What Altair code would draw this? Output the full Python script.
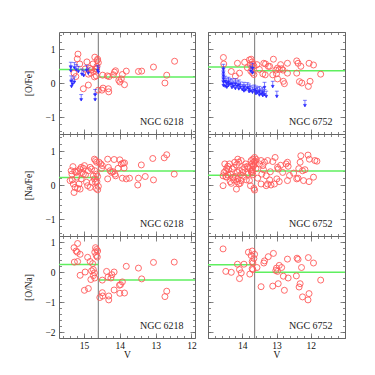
import altair as alt
import pandas as pd
import numpy as np

SERIF = "Liberation Serif"
RED = "#ff5a5a"
BLUE = "#2a2aff"
GREEN = "#5fef5f"
VGREY = "#8a8a8a"
FRAME = "#666666"

# ---------------- NGC 6218 ----------------
v_ofe_6218 = [15.17, 15.19, 15.12, 15.28, 15.23, 15.02, 14.88, 14.70, 14.63, 14.60, 14.64, 14.79,
              14.73, 14.67, 14.81, 14.71, 14.66, 14.60, 14.47, 14.50, 14.32, 14.31, 14.48, 14.35,
              14.30, 14.18, 14.15, 14.12, 14.03, 14.00, 13.96, 13.93, 13.87, 13.82, 13.48, 13.39,
              13.06, 12.69, 12.74, 12.47, 14.83, 14.75, 14.88, 14.97, 14.65, 14.92, 14.62]
ofe_6218 = [0.85, 0.71, 0.56, 0.29, 0.19, -0.17, -0.06, 0.76, 0.66, 0.60, 0.49, 0.39,
            0.34, 0.41, 0.29, 0.18, 0.21, -0.21, -0.15, -0.21, -0.17, -0.26, 0.23, 0.21,
            0.19, 0.24, 0.32, 0.36, 0.08, 0.03, 0.12, 0.25, -0.05, 0.35, 0.34, 0.35,
            0.47, 0.23, 0.00, 0.64, 0.43, 0.56, 0.26, 0.41, 0.42, 0.62, 0.70]
v_ofelim_6218 = [15.37, 15.37, 15.27, 15.22, 15.16, 15.36, 15.32, 15.27, 15.35, 15.06, 15.01,
                 14.93, 14.88, 15.08, 14.69, 14.69, 14.62, 14.60]
ofelim_6218 = [0.61, 0.51, 0.60, 0.54, 0.49, 0.21, 0.12, 0.18, 0.05, 0.41, 0.37,
               0.52, 0.44, -0.34, -0.19, -0.34, 0.52, 0.47]

v_nafe_6218 = [15.36, 15.31, 15.34, 15.39, 15.30, 15.25, 15.28, 15.22, 15.16, 15.20, 15.11, 15.08,
               15.06, 15.02, 14.99, 15.02, 15.14, 15.18, 15.11, 15.08, 14.93, 14.88, 14.83, 14.79,
               14.90, 14.83, 14.77, 14.74, 14.71, 14.68, 14.65, 14.70, 14.65, 14.71, 14.68, 14.66,
               14.62, 14.60, 14.58, 14.53, 14.49, 14.51, 14.34, 14.32, 14.27, 14.34, 14.23, 14.19,
               14.14, 14.12, 14.05, 14.16, 14.00, 13.96, 13.91, 13.87, 13.88, 13.93, 13.82, 13.73,
               13.48, 13.50, 13.40, 13.29, 13.08, 13.06, 12.76, 12.69, 12.48, 15.33, 15.26, 14.96,
               14.62, 14.64]
nafe_6218 = [0.42, 0.54, 0.32, 0.13, 0.03, -0.07, -0.22, 0.37, 0.42, 0.23, 0.47, 0.52,
             0.37, 0.49, 0.57, 0.32, 0.03, -0.10, -0.12, 0.18, 0.08, 0.42, 0.52, 0.47,
             -0.02, -0.07, 0.08, 0.27, 0.76, 0.72, 0.67, 0.42, 0.32, 0.18, 0.08, -0.10,
             -0.14, -0.04, 0.67, 0.62, 0.57, 0.49, 0.76, 0.52, 0.42, 0.18, 0.37, 0.39,
             0.32, 0.27, 0.49, 0.75, 0.74, 0.62, 0.64, 0.65, 0.50, 0.20, 0.18, 0.20,
             0.20, 0.00, 0.59, 0.25, 0.78, 0.15, 0.80, 0.89, 0.32, 0.15, 0.40, 0.30,
             0.25, 0.10]

v_ona_6218 = [15.28, 15.18, 15.22, 15.19, 15.11, 15.27, 15.18, 15.11, 14.99, 14.97, 14.90, 14.83,
              14.88, 14.81, 14.79, 14.74, 14.71, 14.74, 14.70, 14.68, 14.65, 14.62, 14.70, 14.56,
              14.49, 14.48, 14.49, 14.37, 14.33, 14.31, 14.31, 14.25, 14.22, 14.16, 14.16, 14.01,
              13.98, 13.93, 14.00, 13.87, 13.82, 13.48, 13.39, 13.06, 12.74, 12.69, 12.48, 14.76,
              14.66, 14.63]
ona_6218 = [0.81, 0.95, 0.70, 0.66, 0.59, 0.33, 0.35, -0.11, -0.61, 0.00, 0.49, 0.35,
            -0.55, -0.25, 0.04, 0.08, -0.03, -0.12, 0.66, 0.81, 0.75, 0.70, -0.20, -0.85,
            -0.69, -0.80, -0.27, 0.02, -0.17, -0.80, -0.93, -0.20, -0.09, 0.00, -0.60, -0.44,
            -0.42, -0.33, -0.71, -0.70, 0.19, 0.13, -0.23, 0.32, -0.82, -0.64, 0.33, 0.28,
            0.55, 0.50]

# ---------------- NGC 6752 ----------------
v_ofe_6752 = [14.55, 14.54, 14.14, 13.93, 13.74, 13.71, 13.69, 13.76, 13.66, 13.75, 13.70, 13.66,
              14.32, 14.08, 13.57, 13.37, 13.24, 13.09, 12.97, 12.92, 12.85, 12.81, 12.88, 12.68,
              12.68, 13.40, 13.33, 13.11, 13.00, 12.97, 12.77, 12.41, 12.37, 12.29, 12.41, 12.33,
              12.26, 12.05, 11.92, 12.02, 12.07, 11.71, 14.20, 13.85, 13.50, 13.02, 13.79, 13.32,
              13.20, 12.80]
ofe_6752 = [0.75, 0.56, 0.58, 0.61, 0.70, 0.62, 0.55, 0.53, 0.50, 0.35, 0.30, 0.25,
            0.34, 0.29, 0.54, 0.58, 0.49, 0.70, 0.44, 0.40, 0.42, 0.38, 0.54, 0.58,
            0.29, 0.27, 0.24, 0.24, 0.27, 0.12, -0.02, 0.65, 0.58, 0.49, 0.29, 0.04,
            0.00, 0.58, 0.53, 0.05, -0.10, 0.26, 0.20, 0.45, 0.40, 0.38, 0.68, 0.56,
            0.49, 0.05]
v_ofelim_6752 = [14.55, 14.55, 14.55, 14.55, 14.55, 14.55, 14.50, 14.50, 14.45, 14.45,
                 14.40, 14.40, 14.35, 14.30, 14.30, 14.25, 14.20, 14.20, 14.15, 14.10,
                 14.10, 14.05, 14.00, 13.95, 13.95, 13.90, 13.85, 13.80, 13.80, 13.75,
                 13.75, 13.70, 13.70, 13.70, 13.65, 13.60, 13.60, 13.55, 13.50, 13.50,
                 13.45, 13.40, 13.40, 13.35, 13.35, 13.30, 13.11, 12.99, 12.17]
ofelim_6752 = [0.55, 0.45, 0.36, 0.27, 0.18, 0.08, 0.20, 0.06, 0.14, 0.03,
               0.17, 0.08, 0.12, 0.02, 0.12, 0.06, 0.13, -0.01, 0.06, 0.09,
               -0.02, 0.03, -0.04, 0.02, -0.08, -0.05, 0.01, -0.10, -0.03, 0.50,
               -0.08, 0.58, 0.45, -0.12, -0.06, -0.16, -0.09, -0.13, -0.20, -0.10,
               -0.17, -0.13, -0.22, -0.19, 0.02, -0.24, 0.05, -0.24, -0.51]

v_nafe_6752 = [14.56, 14.51, 14.53, 14.56, 14.48, 14.45, 14.42, 14.37, 14.34, 14.29, 14.27, 14.46,
               14.22, 14.17, 14.13, 14.10, 14.03, 14.14, 14.08, 13.98, 13.93, 14.13, 14.10, 14.17,
               14.03, 13.84, 13.82, 13.79, 13.74, 13.69, 13.64, 13.59, 13.72, 13.69, 13.66, 13.64,
               13.50, 13.45, 13.40, 13.35, 13.26, 13.43, 13.30, 13.45, 13.30, 13.26, 13.18, 13.11,
               13.04, 12.97, 12.95, 12.99, 12.92, 13.06, 13.16, 12.82, 12.72, 12.68, 12.66, 12.68,
               12.41, 12.37, 12.31, 12.29, 12.24, 12.17, 12.21, 12.08, 12.04, 12.05, 11.92, 11.88,
               11.82, 13.72, 13.68, 13.66, 13.62, 13.70, 13.74, 13.78, 13.85, 13.90, 14.00, 14.05,
               14.20, 14.25, 14.35, 14.42, 14.48, 13.67, 13.63, 13.71, 13.60, 13.76, 14.40, 14.32,
               14.15, 13.95, 13.55, 13.38, 13.20, 12.88, 12.62, 12.50, 12.35, 14.24, 14.06, 13.88]
nafe_6752 = [-0.02, 0.62, 0.37, 0.27, 0.42, 0.49, 0.55, 0.62, 0.32, 0.47, 0.23, 0.23,
             0.67, 0.59, 0.76, 0.67, 0.72, 0.37, 0.42, 0.37, 0.52, 0.18, 0.03, -0.12,
             0.13, 0.32, 0.52, 0.13, 0.72, 0.76, 0.81, 0.75, 0.35, 0.30, -0.10, -0.15,
             0.62, 0.72, 0.57, 0.67, 0.72, 0.32, 0.27, 0.03, -0.02, 0.03, 0.39, 0.69,
             0.81, 0.52, 0.47, 0.18, 0.10, 0.03, 0.00, 0.37, 0.62, 0.67, 0.55, 0.13,
             0.18, 0.20, 0.67, 0.86, 0.42, 0.45, 0.13, 0.88, 0.76, 0.10, 0.23, 0.72,
             0.70, 0.62, 0.55, 0.68, 0.62, 0.45, 0.40, 0.48, 0.55, 0.62, 0.45, 0.30,
             0.25, 0.15, 0.10, 0.30, 0.25, 0.58, 0.70, 0.40, 0.48, -0.02, 0.45, 0.05,
             0.10, 0.25, 0.20, 0.45, 0.15, 0.58, 0.28, 0.35, 0.48, 0.52, 0.05, 0.15]

v_ona_6752 = [14.56, 14.48, 14.32, 14.14, 14.08, 14.03, 14.08, 13.95, 13.82, 13.74, 13.71, 13.64,
              13.71, 13.69, 13.71, 13.69, 13.78, 13.57, 13.45, 13.37, 13.35, 13.24, 13.09, 13.11,
              13.00, 12.97, 12.95, 12.92, 12.85, 12.80, 12.77, 12.68, 12.66, 12.42, 12.40, 12.37,
              12.31, 12.27, 12.34, 12.24, 12.07, 12.05, 12.08, 11.92, 11.71, 13.66, 13.02]
ona_6752 = [0.77, 0.02, -0.01, 0.26, 0.08, -0.03, -0.22, 0.26, 0.66, 0.55, 0.70, 0.59,
            0.35, 0.30, 0.11, 0.08, -0.07, 0.15, -0.49, 0.30, 0.37, 0.51, 0.62, -0.47,
            0.13, 0.02, -0.39, 0.22, 0.15, -0.14, -0.61, 0.43, -0.20, -0.13, 0.46, 0.42,
            -0.39, 0.15, -0.50, -0.83, 0.48, -0.72, -0.93, 0.30, -0.27, 0.45, 0.05]

clusters = ["NGC 6218", "NGC 6752"]
x_domain = {"NGC 6218": [11.9, 15.7], "NGC 6752": [11.0, 15.0]}
x_labels = {"NGC 6218": [15, 14, 13, 12], "NGC 6752": [14, 13, 12]}
v_split = {"NGC 6218": 14.6, "NGC 6752": 13.64}
y_domain = {"ofe": [-1.5, 1.5], "nafe": [-1.5, 1.5], "ona": [-2.2, 1.2]}
y_title = {"ofe": "[O/Fe]", "nafe": "[Na/Fe]", "ona": "[O/Na]"}
# mean levels (faint side, bright side of the split)
mean_level = {
    ("NGC 6218", "ofe"): (0.40, 0.18), ("NGC 6752", "ofe"): (0.47, 0.36),
    ("NGC 6218", "nafe"): (0.22, 0.41), ("NGC 6752", "nafe"): (0.29, 0.41),
    ("NGC 6218", "ona"): (0.25, -0.27), ("NGC 6752", "ona"): (0.24, -0.01),
}
red_data = {
    ("NGC 6218", "ofe"): (v_ofe_6218, ofe_6218), ("NGC 6752", "ofe"): (v_ofe_6752, ofe_6752),
    ("NGC 6218", "nafe"): (v_nafe_6218, nafe_6218), ("NGC 6752", "nafe"): (v_nafe_6752, nafe_6752),
    ("NGC 6218", "ona"): (v_ona_6218, ona_6218), ("NGC 6752", "ona"): (v_ona_6752, ona_6752),
}
blue_data = {
    ("NGC 6218", "ofe"): (v_ofelim_6218, ofelim_6218),
    ("NGC 6752", "ofe"): (v_ofelim_6752, ofelim_6752),
}

ARROW = "M-0.6,0L0.6,0M0,0L0,2M-0.45,1.25L0,2L0.45,1.25Z"
H = 102


def ticks_between(lo, hi, step):
    start = np.ceil(lo / step - 1e-9) * step
    vals = np.arange(start, hi + 1e-9, step)
    return [round(float(v), 2) for v in vals]


def tick_axis(orient, values, size):
    return alt.Axis(orient=orient, values=values, tickSize=size, offset=-size,
                    labels=False, domain=False, title=None, grid=False, minExtent=0,
                    maxExtent=0, tickColor=FRAME, tickWidth=0.8)


def panel(cl, q, show_x, show_y):
    W = 136 if cl == "NGC 6218" else 137
    xd = x_domain[cl]
    yd = y_domain[q]
    xs = alt.Scale(domain=xd, reverse=True, nice=False, zero=False)
    ys = alt.Scale(domain=yd, nice=False, zero=False)
    xmaj = ticks_between(xd[0], xd[1], 1.0)
    xmin = ticks_between(xd[0], xd[1], 0.2)
    ymaj = ticks_between(yd[0], yd[1], 1.0)
    ymin = ticks_between(yd[0], yd[1], 0.2)

    vv, yy = red_data[(cl, q)]
    red_df = pd.DataFrame({"V": vv, "val": yy})

    if show_x:
        xa = alt.Axis(orient="bottom", values=x_labels[cl], format="d", ticks=False, tickSize=0,
                      domain=False, labelPadding=2, title="V", titlePadding=0, minExtent=0,
                      labelFontSize=9.5, titleFontSize=9.5)
    else:
        xa = None
    if show_y:
        ya = alt.Axis(orient="left", values=ymaj, format="d", ticks=False, tickSize=0,
                      domain=False, labelPadding=4, title=y_title[q], titlePadding=11,
                      minExtent=0, labelFontSize=9.5, titleFontSize=9.5)
    else:
        ya = None

    layers = []
    # tick carriers (invisible)
    for xo, yo, sz, xv, yv in [("bottom", "left", 5, xmaj, ymaj),
                               ("bottom", "left", 2.5, xmin, ymin),
                               ("top", "right", 5, xmaj, ymaj),
                               ("top", "right", 2.5, xmin, ymin)]:
        layers.append(
            alt.Chart(red_df).mark_point(opacity=0).encode(
                x=alt.X("V:Q", scale=xs, axis=tick_axis(xo, xv, sz)),
                y=alt.Y("val:Q", scale=ys, axis=tick_axis(yo, yv, sz)),
            )
        )

    # vertical split line
    layers.append(
        alt.Chart(pd.DataFrame({"V": [v_split[cl]]})).mark_rule(color=VGREY, strokeWidth=1.2).encode(
            x=alt.X("V:Q", scale=xs, axis=None)
        )
    )
    # mean levels
    lo, hi = mean_level[(cl, q)]
    seg = pd.DataFrame({"x1": [xd[1], v_split[cl]], "x2": [v_split[cl], xd[0]], "y": [lo, hi]})
    layers.append(
        alt.Chart(seg).mark_rule(color=GREEN, strokeWidth=1.5).encode(
            x=alt.X("x1:Q", scale=xs, axis=None), x2="x2:Q",
            y=alt.Y("y:Q", scale=ys, axis=None),
        )
    )
    # red circles
    layers.append(
        alt.Chart(red_df).mark_point(shape="circle", filled=False, color=RED, size=36,
                                     strokeWidth=0.9, opacity=1, clip=True).encode(
            x=alt.X("V:Q", scale=xs, axis=xa),
            y=alt.Y("val:Q", scale=ys, axis=ya),
        )
    )
    # blue upper limits
    if (cl, q) in blue_data:
        bv, by = blue_data[(cl, q)]
        layers.append(
            alt.Chart(pd.DataFrame({"V": bv, "val": by})).mark_point(
                shape=ARROW, filled=True, fill=BLUE, stroke=BLUE, strokeWidth=0.6,
                size=42, opacity=1, clip=True).encode(
                x=alt.X("V:Q", scale=xs, axis=None),
                y=alt.Y("val:Q", scale=ys, axis=None),
            )
        )
    # cluster label
    layers.append(
        alt.Chart(pd.DataFrame({"t": [cl]})).mark_text(
            align="left", baseline="middle", font=SERIF, fontSize=10, color="#222222").encode(
            x=alt.value(81), y=alt.value(H - 12), text="t:N")
    )

    return alt.layer(*layers).resolve_axis(x="independent", y="independent").properties(
        width=W, height=H)


panels = []
for q in ["ofe", "nafe", "ona"]:
    for cl in clusters:
        panels.append(panel(cl, q, show_x=(q == "ona"), show_y=(cl == "NGC 6218")))

chart = alt.concat(*panels, columns=2, spacing={"row": 0, "column": 13}, bounds="flush").properties(
    padding={"left": 15, "top": 22, "right": 5, "bottom": 5}
).configure_view(stroke=FRAME, strokeWidth=1).configure_axis(
    grid=False, labelFont=SERIF, titleFont=SERIF, labelColor="#111111", titleColor="#111111",
    titleFontWeight="normal"
)

chart.save("out.html", embed_options={"renderer": "svg", "actions": False})
